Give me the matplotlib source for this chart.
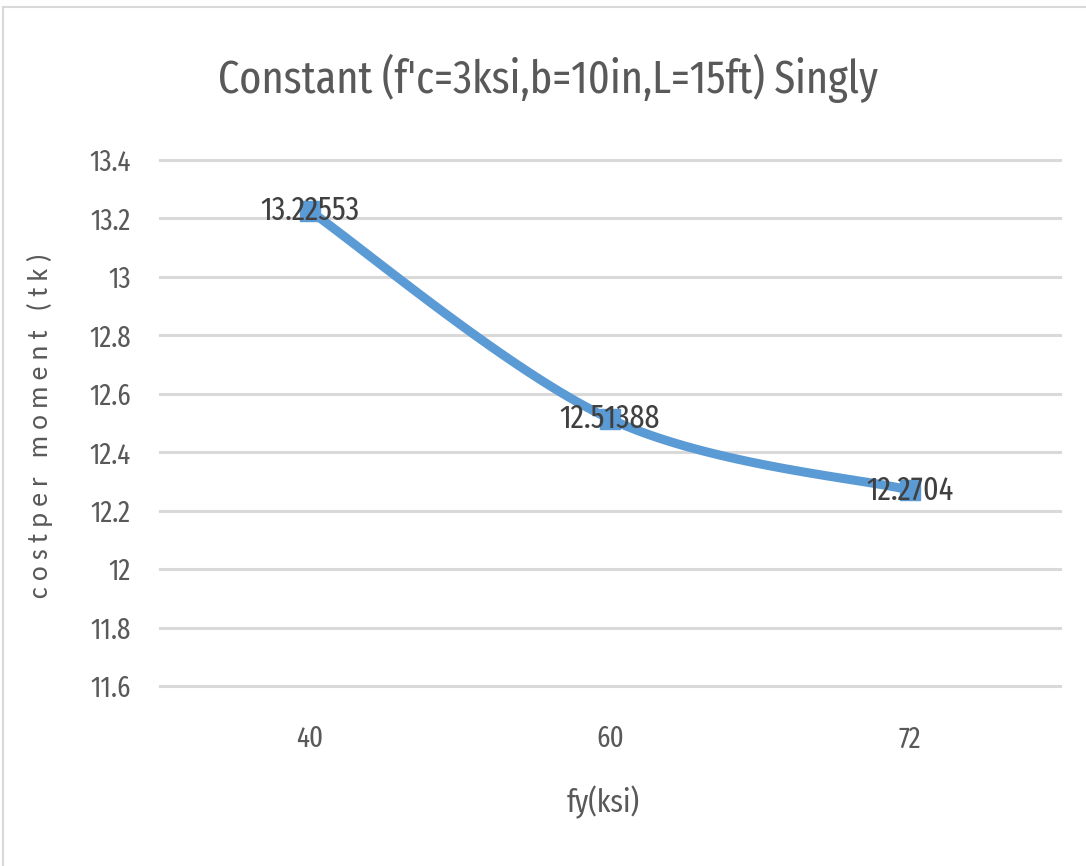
import numpy as np
import matplotlib
matplotlib.use("Agg")
import matplotlib.pyplot as plt
from matplotlib.lines import Line2D

categories = ["40", "60", "72"]
values = [13.22553, 12.51388, 12.2704]
labels = ["13.22553", "12.51388", "12.2704"]
yticks = [11.6, 11.8, 12.0, 12.2, 12.4, 12.6, 12.8, 13.0, 13.2, 13.4]
ytick_labels = ["11.6", "11.8", "12", "12.2", "12.4", "12.6", "12.8", "13", "13.2", "13.4"]

narrow = ["Fira Sans Extra Condensed", "DejaVu Sans"]

fig = plt.figure(figsize=(10.86, 8.66), dpi=100)
ax = fig.add_axes([160/1086, 180/866, 900/1086, 526/866])

x = np.arange(len(values), dtype=float)
y = np.array(values)

def smooth(px, py, n=40):
    xs, ys = [], []
    P = np.column_stack([px, py])
    for i in range(len(P) - 1):
        p0 = P[i - 1] if i > 0 else P[i]
        p1 = P[i]
        p2 = P[i + 1]
        p3 = P[i + 2] if i + 2 < len(P) else P[i + 1]
        c1 = p1 + (p2 - p0) / 6
        c2 = p2 - (p3 - p1) / 6
        t = np.linspace(0, 1, n)[:, None]
        b = (1 - t)**3 * p1 + 3 * (1 - t)**2 * t * c1 + 3 * (1 - t) * t**2 * c2 + t**3 * p2
        xs.append(b[:, 0]); ys.append(b[:, 1])
    return np.concatenate(xs), np.concatenate(ys)

sx, sy = smooth(x * 300, y * (526 / 1.8))
ax.plot(sx / 300, sy / (526 / 1.8), color="#5B9BD5", lw=6.5, solid_capstyle="round", zorder=3)
ax.plot(x, y, ls="none", marker="s", ms=15, color="#5B9BD5", zorder=4)

for xi, yi, lab in zip(x, y, labels):
    ax.text(xi, yi, lab, ha="center", va="center", fontsize=23.5, color="#404040",
            family=narrow, zorder=5)

ax.set_xlim(-0.5, 2.5)
ax.set_ylim(11.6, 13.4)
ax.set_yticks(yticks)
ax.set_yticklabels(ytick_labels, family=narrow, fontsize=21, color="#595959")
ax.set_xticks(x)
ax.set_xticklabels(categories, family=narrow, fontsize=21, color="#595959")
ax.tick_params(axis="both", length=0)
ax.tick_params(axis="y", pad=21)
ax.tick_params(axis="x", pad=28)
ax.grid(axis="y", color="#D9D9D9", lw=2.2)
for gl in ax.get_ygridlines():
    gl.set_clip_on(False)
ax.set_axisbelow(True)
for s in ax.spines.values():
    s.set_visible(False)

fig.text(548/1086, 1 - 78/866, "Constant (f'c=3ksi,b=10in,L=15ft) Singly", ha="center", va="center",
         fontsize=33, color="#595959", family=narrow)
fig.text(603/1086, 1 - 802/866, "fy(ksi)", ha="center", va="center",
         fontsize=23, color="#595959", family=narrow)
fig.text(40/1086, 1 - 425/866, "c o s t p e r   m o m e n t   ( t k )", ha="center", va="center",
         rotation=90, fontsize=20, color="#595959", family=["Carlito", "DejaVu Sans"])

fig.add_artist(Line2D([3/1086, 3/1086], [0, 1 - 7/866], color="#D9D9D9", lw=1.5))
fig.add_artist(Line2D([3/1086, 1], [1 - 7/866, 1 - 7/866], color="#D9D9D9", lw=1.5))

fig.savefig("out.png", dpi=100, facecolor="white")
